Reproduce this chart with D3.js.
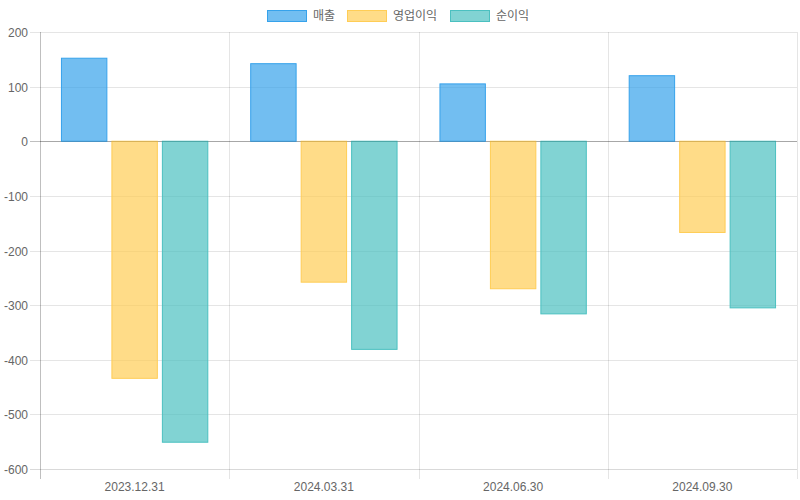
<!DOCTYPE html>
<html>
<head>
<meta charset="utf-8">
<script src="https://cdn.jsdelivr.net/npm/d3@7"></script>
<style>
  html, body { margin: 0; padding: 0; background: #fff; }
  svg { display: block; }
  text { font-family: "Liberation Sans", Arial, "Noto Sans CJK KR", sans-serif; font-size: 12px; fill: #666; }
</style>
</head>
<body>
<svg id="chart" width="800" height="500"></svg>
<script>
const categories = ["2023.12.31", "2024.03.31", "2024.06.30", "2024.09.30"];
const seriesNames = ["매출", "영업이익", "순이익"];
const sales = [152, 142, 105, 120];
const operatingProfit = [-434, -258, -270, -167];
const netProfit = [-551, -381, -316, -305];
const yTicks = [200, 100, 0, -100, -200, -300, -400, -500, -600];

const seriesValues = [sales, operatingProfit, netProfit];
const fills = ["rgba(54,162,235,0.7)", "rgba(255,205,86,0.7)", "rgba(75,192,192,0.7)"];
const strokes = ["rgb(54,162,235)", "rgb(255,205,86)", "rgb(75,192,192)"];

const svg = d3.select("#chart");
const plotLeft = 40, plotRight = 797, plotTop = 32, plotBottom = 469;

const y = d3.scaleLinear().domain([-600, 200]).range([plotBottom, plotTop]);
const x = d3.scaleBand().domain(categories).range([plotLeft, plotRight]).padding(0);
const bw = x.bandwidth();
const xs = d3.scaleBand().domain(seriesNames)
  .range([bw * 0.1, bw * 0.9]).paddingInner(0.1).paddingOuter(0.05);

// horizontal grid lines + tick marks
const g = svg.append("g");
yTicks.forEach(t => {
  const yy = Math.round(y(t)) + 0.5;
  const col = t === 0 ? "rgba(0,0,0,0.25)" : (t === -600 ? "rgba(0,0,0,0.15)" : "rgba(0,0,0,0.1)");
  g.append("line").attr("x1", plotLeft - 10).attr("x2", plotRight).attr("y1", yy).attr("y2", yy)
    .attr("stroke", col).attr("stroke-width", 1);
  g.append("text").attr("x", plotLeft - 12).attr("y", yy).attr("dy", "0.35em")
    .attr("text-anchor", "end").text(t);
});

// vertical grid lines at category boundaries
const bounds = categories.map(c => x(c)).concat([plotRight]);
bounds.forEach((bx, i) => {
  const xx = Math.round(bx) + 0.5;
  g.append("line").attr("x1", xx).attr("x2", xx).attr("y1", plotTop).attr("y2", plotBottom + 10)
    .attr("stroke", i === 0 ? "rgba(0,0,0,0.25)" : "rgba(0,0,0,0.1)").attr("stroke-width", 1);
});

// x labels
categories.forEach(c => {
  g.append("text").attr("x", x(c) + bw / 2).attr("y", 491)
    .attr("text-anchor", "middle").text(c);
});

// bars
const bars = svg.append("g");
seriesNames.forEach((s, si) => {
  categories.forEach((c, ci) => {
    const v = seriesValues[si][ci];
    const x0 = x(c) + xs(s);
    const y0 = Math.min(y(v), y(0));
    const h = Math.abs(y(v) - y(0));
    bars.append("rect")
      .attr("x", x0).attr("y", y0).attr("width", xs.bandwidth()).attr("height", h)
      .attr("fill", fills[si]).attr("stroke", strokes[si]).attr("stroke-width", 1);
  });
});

// redraw zero line on top lightly
svg.append("line").attr("x1", plotLeft).attr("x2", plotRight)
  .attr("y1", Math.round(y(0)) + 0.5).attr("y2", Math.round(y(0)) + 0.5)
  .attr("stroke", "rgba(0,0,0,0.12)").attr("stroke-width", 1);

// legend
const legendX = [267, 347, 450];
const legend = svg.append("g");
seriesNames.forEach((s, si) => {
  legend.append("rect").attr("x", legendX[si] + 0.5).attr("y", 10.5).attr("width", 39).attr("height", 11)
    .attr("fill", fills[si]).attr("stroke", strokes[si]).attr("stroke-width", 1);
  legend.append("text").attr("x", legendX[si] + 46).attr("y", 16).attr("dy", "0.35em").text(s);
});
</script>
</body>
</html>
